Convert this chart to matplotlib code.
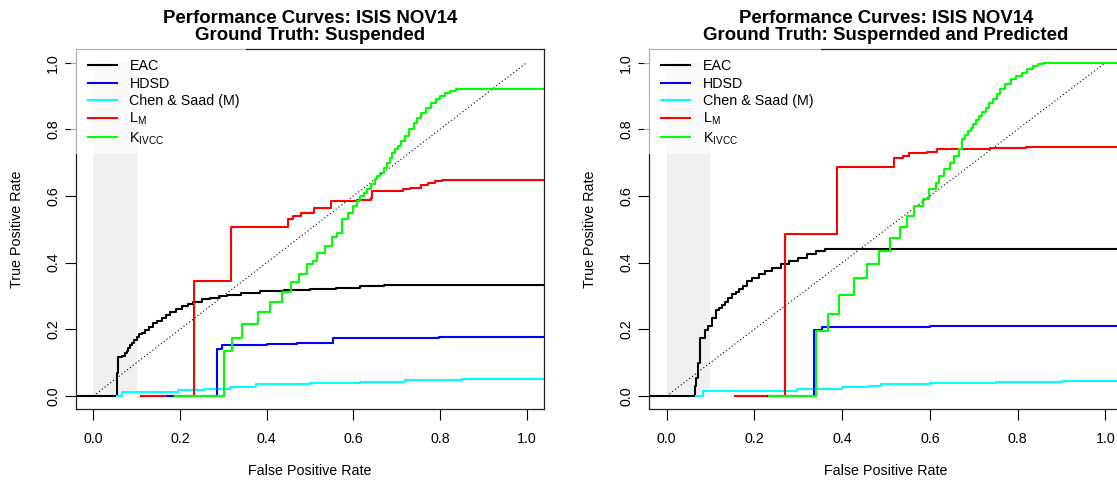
import matplotlib
matplotlib.use("Agg")
import matplotlib.pyplot as plt
from matplotlib.patches import Rectangle
from matplotlib.ticker import FormatStrFormatter

plt.rcParams['font.family'] = ['Liberation Sans', 'DejaVu Sans']
plt.rcParams['mathtext.default'] = 'regular'

labels = ['EAC', 'HDSD', 'Chen & Saad (M)', r'$L_M$', r'$K_{IVCC}$']
colors = ['black', 'blue', 'cyan', 'red', '#00ff00']

# ---- ground truth: suspended ----
eac1_x = [-0.1, 0.055, 0.058, 0.067, 0.072, 0.077, 0.081, 0.085, 0.09, 0.095, 0.1, 0.106,
          0.112, 0.119, 0.128, 0.138, 0.148, 0.158, 0.168, 0.177, 0.19, 0.205, 0.218, 0.231,
          0.25, 0.27, 0.29, 0.308, 0.34, 0.385, 0.44, 0.5, 0.56, 0.615, 0.67, 0.72, 1.1]
eac1_y = [0, 0.07, 0.116, 0.12, 0.128, 0.136, 0.145, 0.153, 0.16, 0.168, 0.178, 0.185,
          0.19, 0.198, 0.208, 0.218, 0.226, 0.234, 0.242, 0.253, 0.262, 0.27, 0.277, 0.283,
          0.29, 0.295, 0.3, 0.303, 0.308, 0.315, 0.318, 0.321, 0.325, 0.33, 0.332, 0.333, 0.333]
hdsd1_x = [0.171, 0.286, 0.298, 0.40, 0.47, 0.554, 0.75, 0.797, 1.1]
hdsd1_y = [0, 0.14, 0.153, 0.155, 0.158, 0.173, 0.173, 0.177, 0.177]
chen1_x = [0.055, 0.067, 0.195, 0.255, 0.315, 0.375, 0.5, 0.615, 0.72, 0.85, 1.1]
chen1_y = [0, 0.013, 0.018, 0.022, 0.027, 0.035, 0.039, 0.043, 0.047, 0.051, 0.052]
lm1_x = [0.11, 0.233, 0.318, 0.449, 0.46, 0.48, 0.509, 0.549, 0.608, 0.64, 0.643, 0.715,
         0.731, 0.756, 0.772, 0.789, 0.805, 1.1]
lm1_y = [0, 0.345, 0.508, 0.532, 0.54, 0.55, 0.565, 0.585, 0.588, 0.595, 0.615, 0.62,
         0.625, 0.632, 0.64, 0.645, 0.647, 0.647]
k1_x = [0.189, 0.301, 0.321, 0.343, 0.381, 0.408, 0.435, 0.456, 0.475, 0.493, 0.507, 0.517,
        0.534, 0.55, 0.562, 0.575, 0.588, 0.6, 0.608, 0.616, 0.624, 0.632, 0.64, 0.649,
        0.655, 0.661, 0.67, 0.678, 0.684, 0.69, 0.696, 0.702, 0.71, 0.719, 0.729, 0.739,
        0.747, 0.756, 0.768, 0.78, 0.79, 0.80, 0.811, 0.822, 0.838, 1.1]
k1_y = [0, 0.135, 0.173, 0.215, 0.251, 0.282, 0.313, 0.343, 0.367, 0.395, 0.405, 0.43,
        0.45, 0.478, 0.49, 0.53, 0.55, 0.57, 0.585, 0.6, 0.61, 0.62, 0.635, 0.65,
        0.66, 0.67, 0.685, 0.70, 0.715, 0.73, 0.74, 0.75, 0.765, 0.78, 0.80, 0.82,
        0.835, 0.85, 0.865, 0.88, 0.89, 0.90, 0.908, 0.915, 0.92, 0.92]

# ---- ground truth: suspended and predicted ----
eac2_x = [-0.1, 0.065, 0.067, 0.071, 0.077, 0.088, 0.095, 0.104, 0.113, 0.12, 0.127, 0.134,
          0.141, 0.15, 0.158, 0.165, 0.175, 0.184, 0.195, 0.21, 0.225, 0.24, 0.26, 0.28,
          0.3, 0.32, 0.34, 0.36, 1.1]
eac2_y = [0, 0.03, 0.053, 0.098, 0.173, 0.198, 0.21, 0.233, 0.258, 0.265, 0.273, 0.283,
          0.293, 0.305, 0.312, 0.32, 0.33, 0.345, 0.355, 0.365, 0.375, 0.385, 0.395, 0.405,
          0.415, 0.425, 0.435, 0.44, 0.44]
hdsd2_x = [0.230, 0.336, 0.354, 0.6, 1.1]
hdsd2_y = [0, 0.198, 0.207, 0.21, 0.21]
chen2_x = [0.066, 0.083, 0.298, 0.399, 0.462, 0.488, 0.6, 0.75, 0.9, 1.1]
chen2_y = [0, 0.015, 0.02, 0.026, 0.03, 0.035, 0.04, 0.043, 0.045, 0.045]
lm2_x = [0.156, 0.271, 0.388, 0.519, 0.539, 0.552, 0.593, 0.617, 0.67, 0.736, 0.818, 1.1]
lm2_y = [0, 0.485, 0.687, 0.715, 0.72, 0.728, 0.732, 0.74, 0.742, 0.745, 0.747, 0.747]
k2_x = [0.234, 0.34, 0.367, 0.394, 0.428, 0.457, 0.484, 0.51, 0.531, 0.547, 0.564, 0.584,
        0.597, 0.613, 0.621, 0.633, 0.646, 0.654, 0.666, 0.674, 0.681, 0.687, 0.693, 0.699,
        0.705, 0.711, 0.719, 0.727, 0.735, 0.744, 0.752, 0.76, 0.772, 0.785, 0.797, 0.809,
        0.822, 0.834, 0.846, 0.858, 1.1]
k2_y = [0, 0.194, 0.247, 0.303, 0.355, 0.395, 0.435, 0.475, 0.508, 0.54, 0.57, 0.59,
        0.62, 0.64, 0.66, 0.68, 0.70, 0.72, 0.74, 0.77, 0.783, 0.795, 0.805, 0.815,
        0.828, 0.84, 0.853, 0.865, 0.878, 0.89, 0.905, 0.92, 0.935, 0.95, 0.96, 0.97,
        0.98, 0.99, 0.996, 1.0, 1.0]

panels = [
    ("Performance Curves: ISIS NOV14\nGround Truth: Suspended",
     [(eac1_x, eac1_y), (hdsd1_x, hdsd1_y), (chen1_x, chen1_y), (lm1_x, lm1_y), (k1_x, k1_y)]),
    ("Performance Curves: ISIS NOV14\nGround Truth: Suspernded and Predicted",
     [(eac2_x, eac2_y), (hdsd2_x, hdsd2_y), (chen2_x, chen2_y), (lm2_x, lm2_y), (k2_x, k2_y)]),
]

fig = plt.figure(figsize=(11.17, 4.83), dpi=100)
W, H = 1117, 483
lefts = [76, 649]
widths = [468, 474]
draw_order = [0, 2, 3, 1, 4]  # red under blue, green on top

for left, width, (title, series) in zip(lefts, widths, panels):
    ax = fig.add_axes([left / W, (H - 409.3) / H, width / W, 360 / H])
    ax.set_xlim(-0.04, 1.04)
    ax.set_ylim(-0.04, 1.04)

    # shaded low-FPR band
    ax.fill_between([0, 0.1], 0, 1, color='#f0f0f0', lw=0, zorder=0)
    ax.plot([0, 1], [0, 1], color='black', lw=0.8, ls=(0, (1, 2.2)), zorder=1)

    handles = [None] * 5
    for i in draw_order:
        xs, ys = series[i]
        handles[i], = ax.plot(xs, ys, drawstyle='steps-post', color=colors[i],
                              lw=1.5, zorder=2)

    # translucent legend background that washes out the frame corner
    ax.add_patch(Rectangle((-0.01, 0.709), 0.373, 0.3, transform=ax.transAxes,
                           facecolor='white', edgecolor='none', alpha=0.65,
                           clip_on=False, zorder=2.6))
    ax.legend(handles, labels, loc='upper left', bbox_to_anchor=(0.0256, 0.972),
              frameon=False, fontsize=10.3, handlelength=2.0, handletextpad=0.9,
              labelspacing=0.22, borderpad=0, borderaxespad=0)

    ax.set_xticks([0, 0.2, 0.4, 0.6, 0.8, 1.0])
    ax.set_yticks([0, 0.2, 0.4, 0.6, 0.8, 1.0])
    ax.xaxis.set_major_formatter(FormatStrFormatter('%.1f'))
    ax.yaxis.set_major_formatter(FormatStrFormatter('%.1f'))
    ax.tick_params(length=8, width=0.8, labelsize=10.3, colors='black')
    ax.tick_params(axis='x', pad=8.5)
    ax.tick_params(axis='y', pad=3.5, labelrotation=90)
    for lab in ax.get_yticklabels():
        lab.set_va('center')
    for sp in ax.spines.values():
        sp.set_linewidth(0.9)
        sp.set_color('#222222')

    ax.set_xlabel("False Positive Rate", fontsize=10.3, labelpad=12.5)
    ax.set_ylabel("True Positive Rate", fontsize=10.3, labelpad=16)
    ax.set_title(title, fontsize=13.4, fontweight='bold', linespacing=1.0, pad=7)

fig.savefig('out.png', dpi=100)
